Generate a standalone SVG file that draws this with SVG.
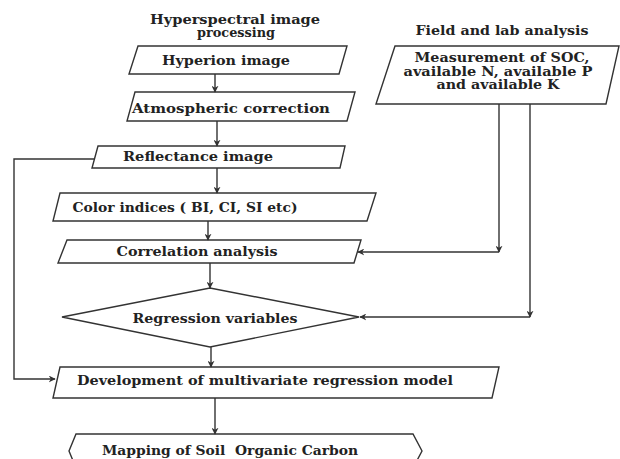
<svg xmlns="http://www.w3.org/2000/svg" width="620" height="459" viewBox="0 0 620 459">
<style>
.box{fill:#fff;stroke:#333;stroke-width:1.4}
.t{font-family:"DejaVu Serif","Liberation Serif",serif;font-weight:bold;font-size:12px;fill:#222;text-anchor:middle}
.c{fill:none;stroke:#333;stroke-width:1.4}
</style>
<defs>
<marker id="ah" viewBox="0 0 10 10" refX="9" refY="5" markerWidth="7" markerHeight="7" orient="auto" markerUnits="userSpaceOnUse">
<path d="M0,0 L10,5 L0,10 L3,5 Z" fill="#333"/>
</marker>
</defs>
<rect width="620" height="459" fill="#fff"/>
<text class="t" x="235" y="24" textLength="170" lengthAdjust="spacingAndGlyphs">Hyperspectral image</text>
<text class="t" x="236" y="37" textLength="78" lengthAdjust="spacingAndGlyphs">processing</text>
<text class="t" x="502" y="35" textLength="173" lengthAdjust="spacingAndGlyphs">Field and lab analysis</text>
<g id="hyperion">
<polygon class="box" points="138,46 347,46 339,74 129,74"/>
<text class="t" x="226" y="65" textLength="128" lengthAdjust="spacingAndGlyphs">Hyperion image</text>
</g>
<g id="atmospheric">
<polygon class="box" points="135,92 355,92 347,121 127,121"/>
<text class="t" x="231" y="113" textLength="198" lengthAdjust="spacingAndGlyphs">Atmospheric correction</text>
</g>
<g id="reflectance">
<polygon class="box" points="98,146 345,146 340,168 92,168"/>
<text class="t" x="198" y="161" textLength="150" lengthAdjust="spacingAndGlyphs">Reflectance image</text>
</g>
<g id="color">
<polygon class="box" points="60,193 376,193 367,221 53,221"/>
<text class="t" x="185" y="212" textLength="225" lengthAdjust="spacingAndGlyphs">Color indices ( BI, CI, SI etc)</text>
</g>
<g id="correlation">
<polygon class="box" points="67,240 361,240 354,263 58,263"/>
<text class="t" x="197" y="256" textLength="161" lengthAdjust="spacingAndGlyphs">Correlation analysis</text>
</g>
<g id="regression">
<polygon class="box" points="62,317 210,288 359,317 210,347"/>
<text class="t" x="215" y="323" textLength="165" lengthAdjust="spacingAndGlyphs">Regression variables</text>
</g>
<g id="development">
<polygon class="box" points="60,367 499,367 492,398 53,398"/>
<text class="t" x="265" y="385" textLength="376" lengthAdjust="spacingAndGlyphs">Development of multivariate regression model</text>
</g>
<g id="mapping">
<polygon class="box" points="76,434 413,434 422,451 413,468 76,468 69,451"/>
<text class="t" x="230" y="455" textLength="256" lengthAdjust="spacingAndGlyphs" xml:space="preserve">Mapping of Soil  Organic Carbon</text>
</g>
<g id="measurement">
<polygon class="box" points="395,46 619,46 606,104 376,104"/>
<text class="t" x="502" y="62" textLength="175" lengthAdjust="spacingAndGlyphs">Measurement of SOC,</text>
<text class="t" x="498" y="76" textLength="189" lengthAdjust="spacingAndGlyphs">available N, available P</text>
<text class="t" x="498" y="89" textLength="123" lengthAdjust="spacingAndGlyphs">and available K</text>
</g>
<g id="connectors">
<path class="c" d="M215,74 V92" marker-end="url(#ah)"/>
<path class="c" d="M217,121 V146" marker-end="url(#ah)"/>
<path class="c" d="M217,168 V193" marker-end="url(#ah)"/>
<path class="c" d="M208,221 V240" marker-end="url(#ah)"/>
<path class="c" d="M210,263 V288" marker-end="url(#ah)"/>
<path class="c" d="M211,347 V367" marker-end="url(#ah)"/>
<path class="c" d="M215,398 V434" marker-end="url(#ah)"/>
<path class="c" d="M499,104 V252" marker-end="url(#ah)"/>
<path class="c" d="M499,252 H358" marker-end="url(#ah)"/>
<path class="c" d="M530,104 V317" marker-end="url(#ah)"/>
<path class="c" d="M530,317 H360" marker-end="url(#ah)"/>
<path class="c" d="M94,159 H14 V379 H55" marker-end="url(#ah)"/>
</g>
</svg>
